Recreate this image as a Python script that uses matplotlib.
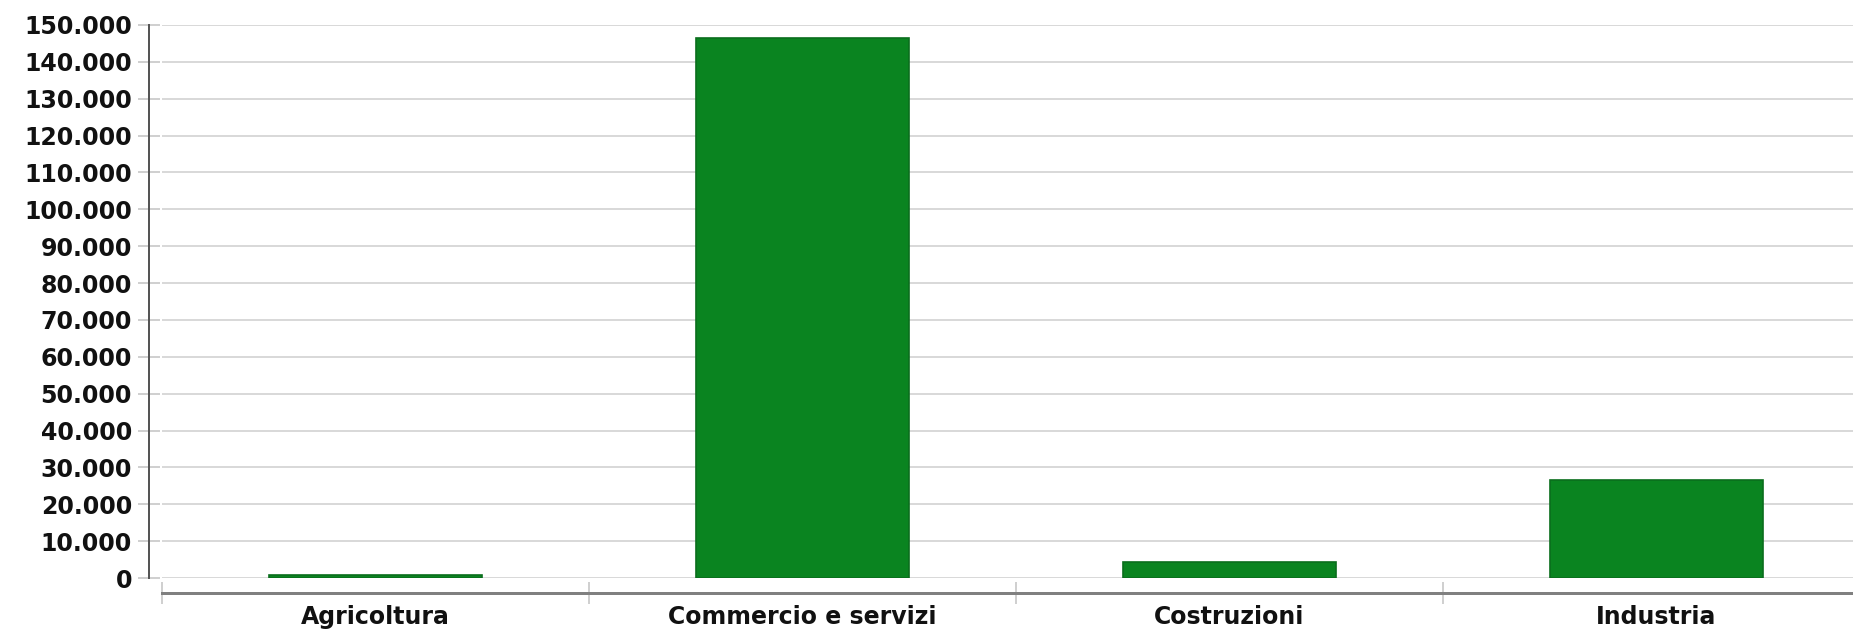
import matplotlib
matplotlib.use("Agg")
import matplotlib.pyplot as plt
from matplotlib.ticker import FixedLocator, FuncFormatter

categories = ["Agricoltura", "Commercio e servizi", "Costruzioni", "Industria"]
values = [800, 146500, 4300, 26500]
y_ticks = list(range(0, 150001, 10000))

W, H = 1853, 632
fig = plt.figure(figsize=(W / 100, H / 100), dpi=100)
ax = fig.add_axes([162 / W, 54 / H, 1708 / W, 553 / H])

PX = 0.72  # points per pixel

ax.bar(range(len(categories)), values, width=0.5, color="#0a8420",
       edgecolor="#0b6e1d", linewidth=1.2, zorder=3)

ax.set_xlim(-0.5, 3.5)
ax.set_ylim(0, 150000)

for s in ["top", "right"]:
    ax.spines[s].set_visible(False)
ax.spines["left"].set_position(("outward", 13 * PX))
ax.spines["left"].set_color("#555555")
ax.spines["left"].set_linewidth(2 * PX)
ax.spines["bottom"].set_position(("outward", 15 * PX))
ax.spines["bottom"].set_color("#808080")
ax.spines["bottom"].set_linewidth(3 * PX)

ax.yaxis.set_major_locator(FixedLocator(y_ticks))
ax.yaxis.set_major_formatter(FuncFormatter(lambda v, p: f"{v:,.0f}".replace(",", ".")))
ax.grid(axis="y", color="#d9d9d9", linewidth=2 * PX, zorder=0)
ax.set_axisbelow(True)
ax.tick_params(axis="y", direction="inout", length=22 * PX, width=2 * PX,
               color="#d0d0d0", pad=6 * PX, labelsize=17)

ax.set_xticks(range(len(categories)))
ax.set_xticklabels(categories)
ax.set_xticks([-0.5, 0.5, 1.5, 2.5], minor=True)
ax.tick_params(axis="x", which="major", length=0, pad=12 * PX, labelsize=17)
ax.tick_params(axis="x", which="minor", direction="inout", length=22 * PX,
               width=2 * PX, color="#d0d0d0")

for lbl in ax.get_xticklabels() + ax.get_yticklabels():
    lbl.set_fontweight("bold")
    lbl.set_color("#111111")

fig.savefig("out.png", dpi=100)
